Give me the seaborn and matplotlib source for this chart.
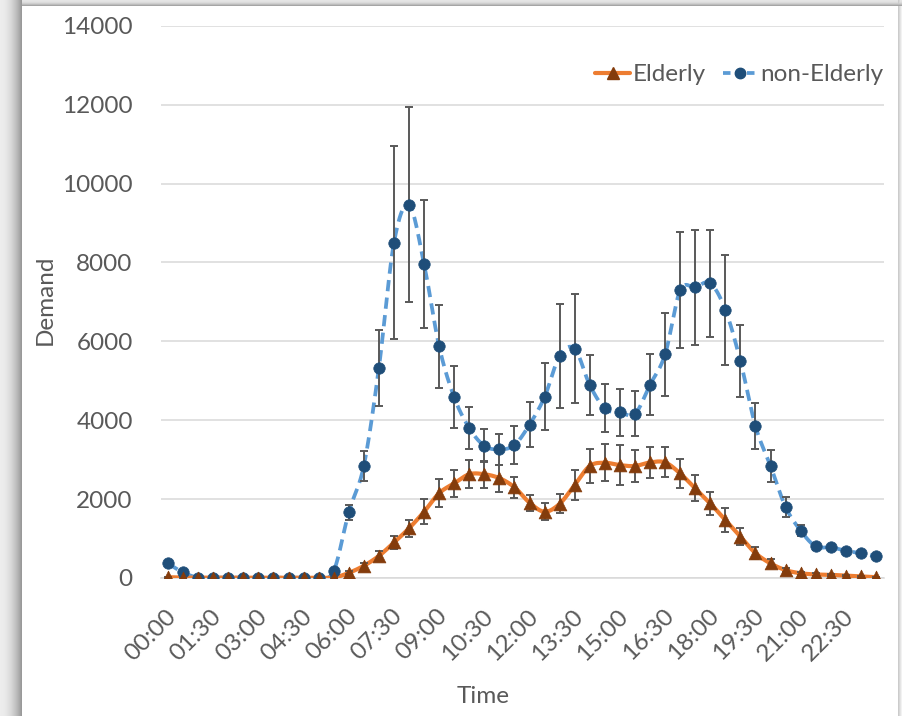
import numpy as np
import pandas as pd
import matplotlib
matplotlib.use("Agg")
import matplotlib.pyplot as plt
from matplotlib.lines import Line2D
from matplotlib.transforms import ScaledTranslation
import seaborn as sns

# ---------------- data ----------------
times = ["00:00", "00:30", "01:00", "01:30", "02:00", "02:30", "03:00", "03:30",
         "04:00", "04:30", "05:00", "05:30", "06:00", "06:30", "07:00", "07:30",
         "08:00", "08:30", "09:00", "09:30", "10:00", "10:30", "11:00", "11:30",
         "12:00", "12:30", "13:00", "13:30", "14:00", "14:30", "15:00", "15:30",
         "16:00", "16:30", "17:00", "17:30", "18:00", "18:30", "19:00", "19:30",
         "20:00", "20:30", "21:00", "21:30", "22:00", "22:30", "23:00", "23:30"]

elderly = [20, 10, 10, 10, 10, 10, 10, 10, 10, 10, 10, 10,
           130, 310, 560, 900, 1260, 1680, 2150, 2400, 2630, 2630,
           2530, 2300, 1910, 1680, 1880, 2360, 2840, 2920, 2860, 2840,
           2930, 2930, 2650, 2270, 1890, 1470, 1050, 630, 370, 200,
           120, 90, 80, 60, 40, 20]
elderly_err = [10, 10, 10, 10, 10, 10, 10, 10, 10, 10, 10, 10,
               40, 80, 120, 170, 220, 310, 350, 350, 360, 340,
               340, 270, 200, 210, 240, 380, 430, 470, 500, 410,
               400, 380, 370, 330, 300, 300, 210, 160, 100, 60,
               40, 30, 20, 20, 10, 10]

non_elderly = [370, 140, 10, 10, 10, 10, 10, 10, 10, 10, 10, 180,
               1670, 2850, 5330, 8500, 9460, 7960, 5870, 4580, 3800, 3350,
               3260, 3370, 3890, 4590, 5630, 5810, 4890, 4300, 4200, 4160,
               4900, 5670, 7290, 7370, 7470, 6800, 5500, 3850, 2840, 1800,
               1200, 800, 780, 690, 630, 550]
non_elderly_err = [30, 20, 10, 10, 10, 10, 10, 10, 10, 10, 10, 40,
                   190, 380, 960, 2450, 2470, 1620, 1060, 790, 530, 420,
                   400, 480, 580, 850, 1320, 1380, 760, 610, 590, 570,
                   770, 1060, 1470, 1460, 1350, 1390, 920, 580, 400, 260,
                   140, 80, 60, 50, 40, 40]

series_names = ["Elderly", "non-Elderly"]
y_ticks = [0, 2000, 4000, 6000, 8000, 10000, 12000, 14000]

# ---------------- styling ----------------
sns.set_theme(style="white")
plt.rcParams["font.family"] = ["Lato", "DejaVu Sans"]
TXT = "#595959"
FS = 17.5

ORANGE = "#ED7D31"
BROWN = "#843C0C"
LBLUE = "#5B9BD5"
DBLUE = "#1F4E79"
ERRC = "#595959"

W, H = 902, 716
fig = plt.figure(figsize=(W / 100, H / 100), dpi=100)

# drop-shadow frame around the white chart panel
bg = np.ones((H, W, 3))
for i in range(22):
    v = 0.93 - 0.33 * (i / 21) ** 2
    bg[:, i, :] = v
for j in range(6):
    v = 0.90 - 0.25 * (j / 5) ** 2
    bg[j, 22:, :] = np.minimum(bg[j, 22:, :], v)
for k in range(4):
    v = 0.95 - 0.15 * (k / 3)
    bg[:, W - 1 - k, :] = np.minimum(bg[:, W - 1 - k, :], v)
fig.figimage(bg, xo=0, yo=0, origin="upper", zorder=-10)

left, right = 160.5 / W, 883.5 / W
top, bottom = 1 - 25.7 / H, 1 - 578 / H
ax = fig.add_axes([left, bottom, right - left, top - bottom])
ax.set_zorder(1)
ax.set_facecolor("none")

x = np.arange(len(times))


def catmull_rom(xs, ys, n=24):
    p = np.column_stack([xs, ys]).astype(float)
    p = np.vstack([p[0], p, p[-1]])
    out = []
    t = np.linspace(0, 1, n, endpoint=False)[:, None]
    for i in range(1, len(p) - 2):
        P0, P1, P2, P3 = p[i - 1], p[i], p[i + 1], p[i + 2]
        seg = 0.5 * (2 * P1 + (-P0 + P2) * t
                     + (2 * P0 - 5 * P1 + 4 * P2 - P3) * t ** 2
                     + (-P0 + 3 * P1 - 3 * P2 + P3) * t ** 3)
        out.append(seg)
    out.append(p[-2][None, :])
    return np.vstack(out)


sm_e = catmull_rom(x, elderly)
sm_n = catmull_rom(x, non_elderly)

df_e = pd.DataFrame({"x": sm_e[:, 0], "y": sm_e[:, 1]})
df_n = pd.DataFrame({"x": sm_n[:, 0], "y": sm_n[:, 1]})

sns.lineplot(data=df_n, x="x", y="y", sort=False, estimator=None, ax=ax,
             color=LBLUE, lw=2.7, zorder=3, linestyle=(0, (3.0, 1.7)))
sns.lineplot(data=df_e, x="x", y="y", sort=False, estimator=None, ax=ax,
             color=ORANGE, lw=3.0, zorder=4)

ax.errorbar(x, non_elderly, yerr=non_elderly_err, fmt="none", ecolor=ERRC,
            elinewidth=1.4, capsize=3.2, capthick=1.4, zorder=5)
ax.errorbar(x, elderly, yerr=elderly_err, fmt="none", ecolor=ERRC,
            elinewidth=1.4, capsize=3.2, capthick=1.4, zorder=5)

pts = pd.DataFrame({"x": np.concatenate([x, x]),
                    "y": elderly + non_elderly,
                    "s": [series_names[0]] * len(x) + [series_names[1]] * len(x)})
sns.scatterplot(data=pts[pts.s == "non-Elderly"], x="x", y="y", ax=ax,
                marker="o", s=68, color=DBLUE, edgecolor=DBLUE, linewidth=0.5,
                zorder=6, legend=False)
sns.scatterplot(data=pts[pts.s == "Elderly"], x="x", y="y", ax=ax,
                marker="^", s=85, color=BROWN, edgecolor=BROWN, linewidth=0.5,
                zorder=7, legend=False)

# axes
ax.set_xlim(-0.5, len(times) - 0.5)
ax.set_ylim(0, 14000)
ax.set_yticks(y_ticks)
ax.set_yticklabels([str(v) for v in y_ticks])
ax.set_xticks(x[::3])
ax.set_xticklabels(times[::3], rotation=45, ha="right", va="center",
                   rotation_mode="anchor")
ax.tick_params(axis="x", length=0, pad=25, labelsize=FS, colors=TXT)
ax.tick_params(axis="y", length=0, pad=20, labelsize=FS, colors=TXT)
shift = ScaledTranslation(5 / 100, 0, fig.dpi_scale_trans)
for lab in ax.get_xticklabels():
    lab.set_transform(lab.get_transform() + shift)
ax.grid(axis="y", color="#D9D9D9", lw=1.1, zorder=0)
ax.set_axisbelow(True)
for s in ["left", "right", "top"]:
    ax.spines[s].set_visible(False)
ax.spines["bottom"].set_color("#D9D9D9")
ax.spines["bottom"].set_linewidth(1.1)

ax.set_xlabel("Time", fontsize=FS, color=TXT, va="center")
ax.set_ylabel("Demand", fontsize=FS, color=TXT, va="center")
ax.xaxis.set_label_coords((483 - 160.5) / 723, -(696 - 578) / 552)
ax.yaxis.set_label_coords(-(160.5 - 45) / 723, (578 - 300) / 552)

handles = [
    Line2D([0], [0], color=ORANGE, lw=3.0, marker="^", markersize=8.5,
           markerfacecolor=BROWN, markeredgecolor=BROWN),
    Line2D([0], [0], color=LBLUE, lw=2.7, linestyle=(0, (2.0, 1.2)), marker="o",
           markersize=7.5, markerfacecolor=DBLUE, markeredgecolor=DBLUE),
]
leg = ax.legend(handles, series_names, loc="upper right",
                bbox_to_anchor=(1.0, 0.93), ncol=2, frameon=False,
                fontsize=FS, handlelength=1.45, handletextpad=0.1,
                columnspacing=0.7, borderaxespad=0, borderpad=0)
for t in leg.get_texts():
    t.set_color(TXT)

fig.savefig("out.png", dpi=100)
